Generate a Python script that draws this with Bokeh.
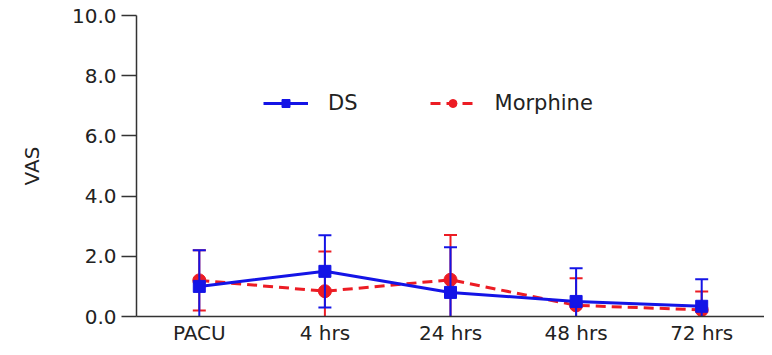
from bokeh.plotting import figure
from bokeh.models import Range1d, FactorRange, Legend, LegendItem, NumeralTickFormatter, ColumnDataSource
from bokeh.embed import file_html
from bokeh.resources import INLINE

categories = ["PACU", "4 hrs", "24 hrs", "48 hrs", "72 hrs"]
ds_mean = [1.0, 1.5, 0.8, 0.5, 0.34]
ds_sd = [1.2, 1.2, 1.5, 1.1, 0.9]
mor_mean = [1.2, 0.84, 1.22, 0.37, 0.22]
mor_sd = [1.0, 1.32, 1.49, 0.9, 0.61]
y_ticks = [0, 2, 4, 6, 8, 10]

BLUE = "#1414e6"
RED = "#ec1c24"
FONT = "DejaVu Sans"

p = figure(x_range=FactorRange(*categories, range_padding=0), y_range=Range1d(0, 10),
           width=764, height=347, output_backend="svg", toolbar_location=None,
           min_border_left=136, min_border_right=0, min_border_top=15, min_border_bottom=31)
p.outline_line_color = None
p.grid.visible = False
p.background_fill_color = "white"

def series(mean, sd, color, marker, dash):
    lo = [m - s for m, s in zip(mean, sd)]
    hi = [m + s for m, s in zip(mean, sd)]
    src = ColumnDataSource(dict(x=categories, y=mean, lo=lo, hi=hi))
    p.segment(x0="x", y0="lo", x1="x", y1="hi", source=src, line_color=color, line_width=2)
    p.scatter(x="x", y="hi", source=src, marker="dash", size=13, line_color=color, line_width=2)
    p.scatter(x="x", y="lo", source=src, marker="dash", size=13, line_color=color, line_width=2)
    ln = p.line(x="x", y="y", source=src, line_color=color, line_width=3, line_dash=dash)
    mk = p.scatter(x="x", y="y", source=src, marker=marker, size=12 if marker == "square" else 13,
                   fill_color=color, line_color=color)
    return ln, mk

r_line, r_mk = series(mor_mean, mor_sd, RED, "circle", "10 6")
b_line, b_mk = series(ds_mean, ds_sd, BLUE, "square", "solid")

legend = Legend(items=[LegendItem(label="DS", renderers=[b_line, b_mk]),
                       LegendItem(label="Morphine", renderers=[r_line, r_mk])],
                orientation="horizontal", location=(127, 201),
                border_line_color=None, background_fill_alpha=0,
                padding=0, margin=0, spacing=72, label_standoff=20,
                glyph_width=45, glyph_height=20, label_height=20,
                label_text_font=FONT, label_text_font_size="21px", label_text_color="#222222")
p.add_layout(legend)

p.yaxis.ticker = y_ticks
p.yaxis.formatter = NumeralTickFormatter(format="0.0")
p.yaxis.axis_label = "VAS"
p.yaxis.axis_label_text_font = FONT
p.yaxis.axis_label_text_font_style = "normal"
p.yaxis.axis_label_text_font_size = "20px"
p.yaxis.axis_label_text_color = "#222222"
p.yaxis.axis_label_standoff = 25
p.yaxis.major_tick_out = 15
p.yaxis.major_tick_in = 0
p.yaxis.minor_tick_line_color = None
p.yaxis.major_label_standoff = 5

for ax in [p.xaxis[0], p.yaxis[0]]:
    ax.axis_line_color = "#333333"
    ax.axis_line_width = 1.5
    ax.major_tick_line_color = "#333333"
    ax.major_tick_line_width = 1.5
    ax.major_label_text_font = FONT
    ax.major_label_text_font_size = "20px"
    ax.major_label_text_color = "#222222"

p.xaxis.major_tick_line_color = None
p.xaxis.major_tick_out = 0
p.xaxis.major_tick_in = 0
p.xaxis.major_label_standoff = 4

open("out.html", "w").write(file_html(p, INLINE))
